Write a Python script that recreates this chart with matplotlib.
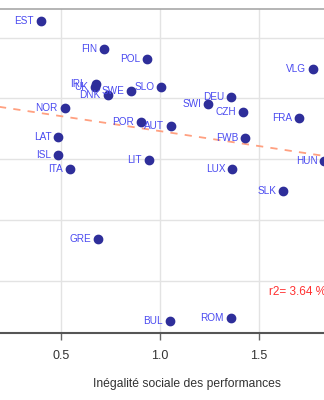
import numpy as np
import matplotlib.pyplot as plt

plt.rcParams['font.family'] = ['Liberation Sans', 'DejaVu Sans']

# pays / communautés
codes = ['EST', 'FIN', 'POL', 'IRL', 'UK', 'DNK', 'SWE', 'SLO', 'NOR', 'POR',
         'AUT', 'VLG', 'DEU', 'SWI', 'CZH', 'FRA', 'LAT', 'ISL', 'ITA', 'LIT',
         'GRE', 'FWB', 'LUX', 'SLK', 'HUN', 'ROM', 'BUL']
inegalite = [0.399, 0.719, 0.937, 0.677, 0.671, 0.736, 0.854, 1.008, 0.519, 0.906,
             1.055, 1.775, 1.362, 1.245, 1.423, 1.703, 0.486, 0.486, 0.546, 0.945,
             0.686, 1.431, 1.367, 1.625, 1.833, 1.360, 1.050]
performance = [42.8, 38.2, 36.5, 32.4, 31.8, 30.5, 31.3, 31.8, 28.5, 26.1,
               25.5, 34.9, 30.2, 29.0, 27.8, 26.8, 23.7, 20.7, 18.4, 19.8,
               6.9, 23.5, 18.3, 14.7, 19.7, -6.1, -6.7]
xticks = [0.5, 1.0, 1.5]

# droite de régression
fit_intercept = 29.54
fit_slope = -4.92
r2 = 3.64

fig = plt.figure(figsize=(3.24, 4.0), dpi=100)
ax = fig.add_axes([-37.8 / 324, 67 / 400, 450.5 / 324, 323.7 / 400])
ax.set_xlim(0, 2.28)
ax.set_ylim(-8.64, 44.68)

ax.set_xticks(xticks)
ax.set_xticklabels(['%.1f' % t for t in xticks])
ax.set_yticks([0, 10, 20, 30, 40])
ax.grid(True, color='#e3e3e3', lw=1)
ax.axvline(2.0, color='#e3e3e3', lw=1, zorder=0)
ax.set_axisbelow(True)

for s in ['left', 'right']:
    ax.spines[s].set_visible(False)
ax.spines['top'].set_color('#a8a8a8')
ax.spines['top'].set_linewidth(1.2)
ax.spines['bottom'].set_color('#555555')
ax.spines['bottom'].set_linewidth(1.5)
ax.tick_params(axis='x', length=5, width=1, color='#666666', labelsize=9,
               labelcolor='#333333', pad=7)
ax.tick_params(axis='y', length=0, labelleft=False)

xs = np.linspace(0, 2.28, 50)
ax.plot(xs, fit_intercept + fit_slope * xs, ls=(0, (4, 4)), color='#ffa080', lw=1.3)

ax.scatter(inegalite, performance, s=36, color='#2e2e9a', zorder=3)
for c, x, y in zip(codes, inegalite, performance):
    dx = -7 if c == 'IRL' else -5
    ax.annotate(c, (x, y), xytext=(dx, 0), textcoords='offset points',
                ha='right', va='center', fontsize=7.2, color='#4a4af0')

ax.text(1.551, -1.9, 'r2= %.2f %%' % r2, color='#ff3030', fontsize=8.5,
        ha='left', va='center', clip_on=True)

ax.set_xlabel('Inégalité sociale des performances', fontsize=8.7, color='#333333',
              labelpad=12)

fig.savefig('out.png', dpi=100)
